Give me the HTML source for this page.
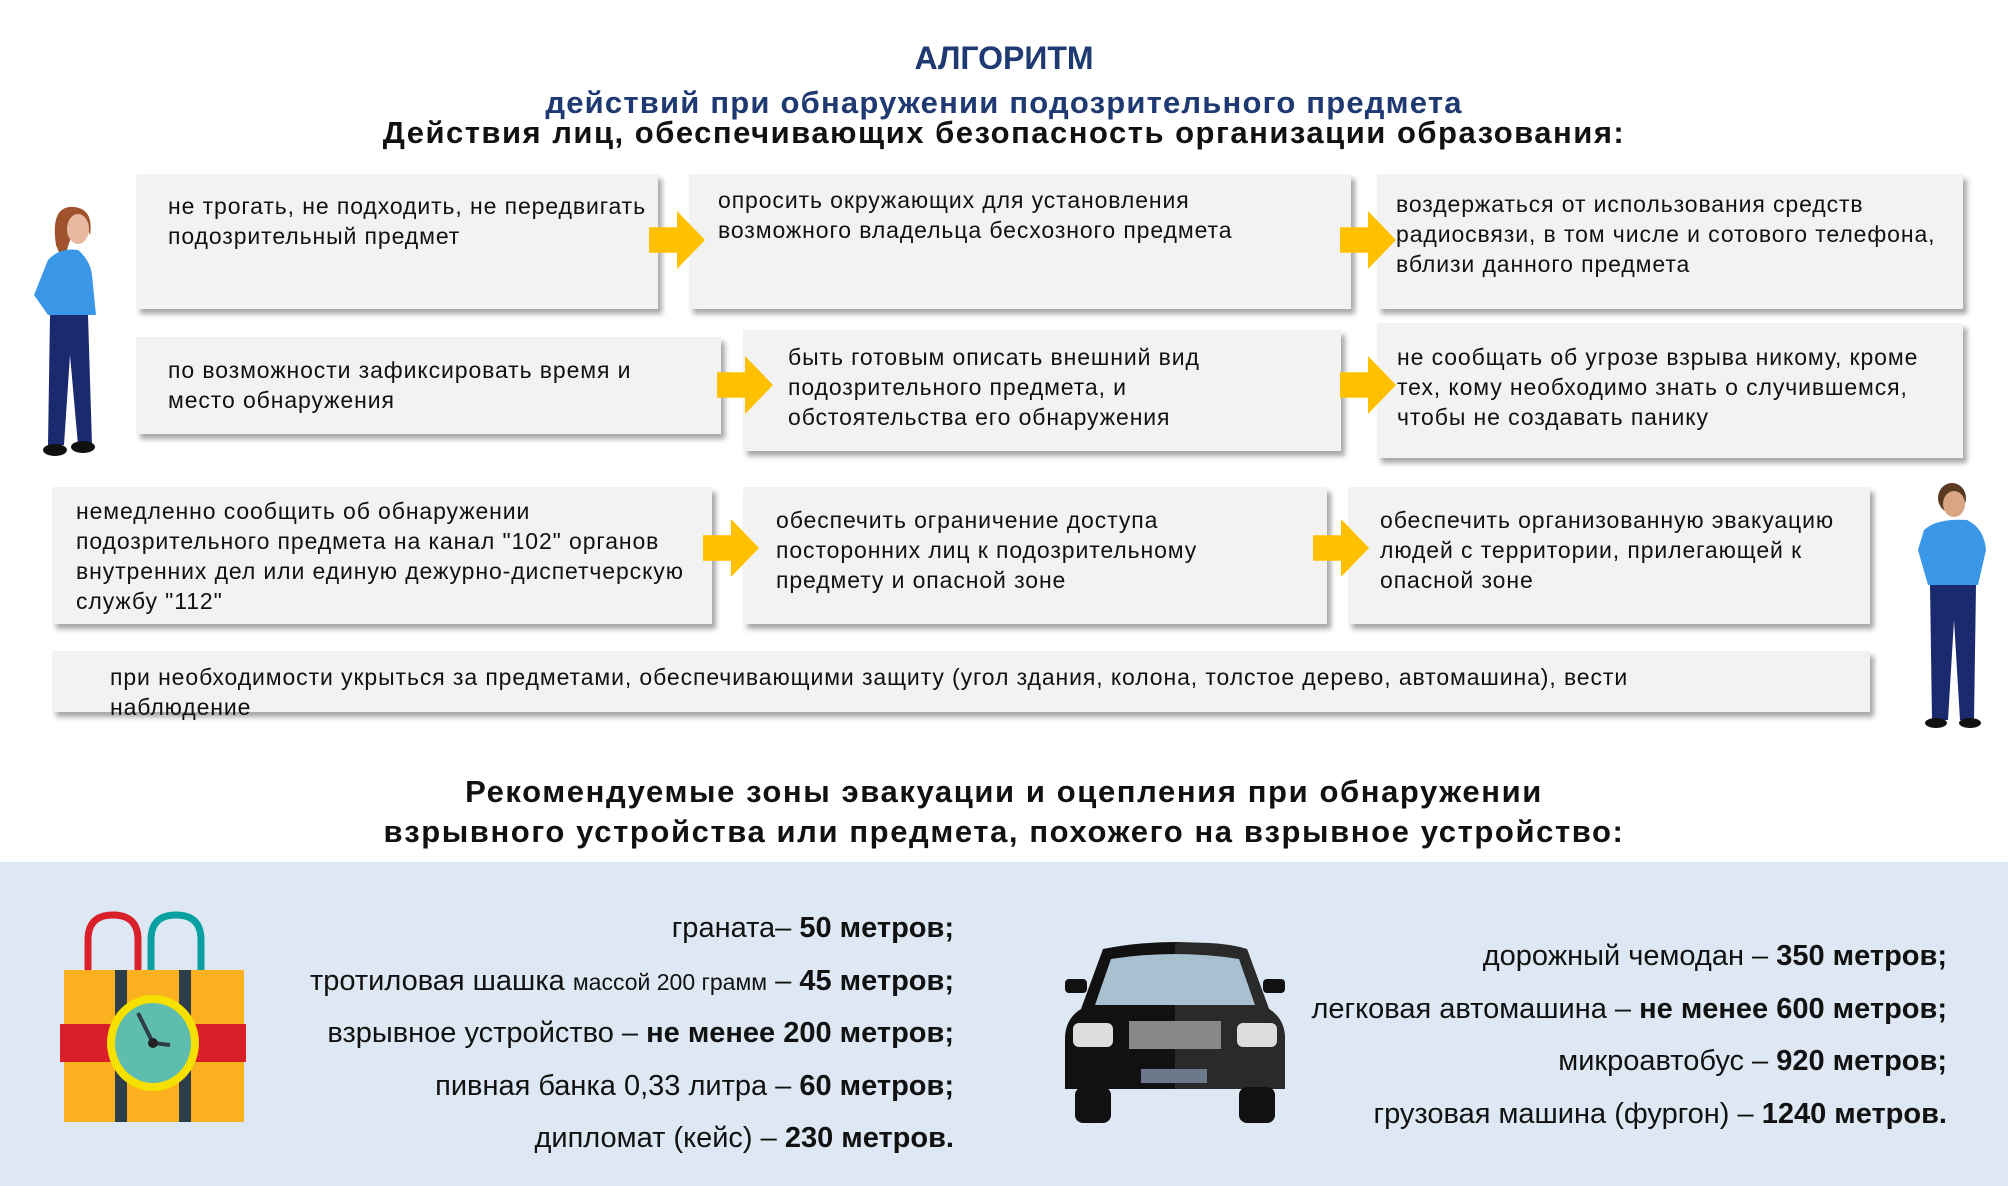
<!DOCTYPE html>
<html><head><meta charset="utf-8"><style>
*{margin:0;padding:0;box-sizing:border-box}
body{width:2008px;height:1186px;position:relative;background:#fff;font-family:"Liberation Sans",Arial,sans-serif;overflow:hidden;color:#111}
.a{position:absolute}
.box{position:absolute;background:#f2f2f2;box-shadow:4px 5px 5px rgba(0,0,0,0.35)}
.t{position:absolute;font-size:23px;letter-spacing:0.9px;line-height:30px;color:#111;white-space:nowrap}
.ar{position:absolute;width:56px;height:58px;background:#ffc000;clip-path:polygon(0 28%,50% 28%,50% 0,100% 50%,50% 100%,50% 72%,0 72%)}
.h{position:absolute;left:0;width:2008px;text-align:center;font-weight:bold}
.r{position:absolute;text-align:right;font-size:29px;white-space:nowrap;color:#111}
.r b{font-weight:bold}
</style></head><body>
<div class="h" style="top:40px;font-size:32px;color:#1f3a72">АЛГОРИТМ</div>
<div class="h" style="top:85px;font-size:31px;color:#1f3a72;letter-spacing:1.2px">действий при обнаружении подозрительного предмета</div>
<div class="h" style="top:115px;font-size:31px;color:#111;letter-spacing:1.5px">Действия лиц, обеспечивающих безопасность организации образования:</div>

<div class="box" style="left:136px;top:174px;width:522px;height:135px"></div>
<div class="box" style="left:689px;top:174px;width:662px;height:135px"></div>
<div class="box" style="left:1377px;top:174px;width:586px;height:135px"></div>
<div class="box" style="left:136px;top:337px;width:585px;height:97px"></div>
<div class="box" style="left:743px;top:330px;width:598px;height:121px"></div>
<div class="box" style="left:1377px;top:323px;width:586px;height:135px"></div>
<div class="box" style="left:52px;top:487px;width:660px;height:137px"></div>
<div class="box" style="left:743px;top:487px;width:584px;height:137px"></div>
<div class="box" style="left:1348px;top:487px;width:522px;height:137px"></div>
<div class="box" style="left:52px;top:651px;width:1818px;height:61px"></div>

<div class="t" style="left:168px;top:191px">не трогать, не подходить, не передвигать<br>подозрительный предмет</div>
<div class="t" style="left:718px;top:185px">опросить окружающих для установления<br>возможного владельца бесхозного предмета</div>
<div class="t" style="left:1396px;top:189px">воздержаться от использования средств<br>радиосвязи, в том числе и сотового телефона,<br>вблизи данного предмета</div>
<div class="t" style="left:168px;top:355px">по возможности зафиксировать время и<br>место обнаружения</div>
<div class="t" style="left:788px;top:342px">быть готовым описать внешний вид<br>подозрительного предмета, и<br>обстоятельства его обнаружения</div>
<div class="t" style="left:1397px;top:342px">не сообщать об угрозе взрыва никому, кроме<br>тех, кому необходимо знать о случившемся,<br>чтобы не создавать панику</div>
<div class="t" style="left:76px;top:496px">немедленно сообщить об обнаружении<br>подозрительного предмета на канал "102" органов<br>внутренних дел или единую дежурно-диспетчерскую<br>службу "112"</div>
<div class="t" style="left:776px;top:505px">обеспечить ограничение доступа<br>посторонних лиц к подозрительному<br>предмету и опасной зоне</div>
<div class="t" style="left:1380px;top:505px">обеспечить организованную эвакуацию<br>людей с территории, прилегающей к<br>опасной зоне</div>
<div class="t" style="left:110px;top:662px">при необходимости укрыться за предметами, обеспечивающими защиту (угол здания, колона, толстое дерево, автомашина), вести<br>наблюдение</div>

<div class="ar" style="left:649px;top:211px"></div>
<div class="ar" style="left:1340px;top:211px"></div>
<div class="ar" style="left:717px;top:356px"></div>
<div class="ar" style="left:1340px;top:356px"></div>
<div class="ar" style="left:703px;top:519px"></div>
<div class="ar" style="left:1313px;top:519px"></div>

<!-- woman -->
<svg class="a" style="left:30px;top:205px" width="90" height="255" viewBox="0 0 90 255">
<path d="M26 40 Q20 0 44 2 Q64 4 60 30 L56 20 Q40 20 34 60 Z" fill="#a0522d"/>
<ellipse cx="48" cy="24" rx="11" ry="15" fill="#e8b8a0"/>
<path d="M18 55 Q30 42 48 45 Q60 55 62 70 L66 110 L18 110 L4 90 Z" fill="#3a97e8"/>
<path d="M20 110 L58 110 L62 240 L48 240 L40 150 L34 240 L18 240 Z" fill="#1b2a6e"/>
<ellipse cx="25" cy="245" rx="12" ry="6" fill="#111"/>
<ellipse cx="53" cy="242" rx="12" ry="6" fill="#111"/>
</svg>
<!-- man -->
<svg class="a" style="left:1912px;top:480px" width="80" height="250" viewBox="0 0 80 250">
<ellipse cx="40" cy="18" rx="14" ry="15" fill="#5a3a22"/>
<ellipse cx="42" cy="24" rx="11" ry="13" fill="#d9a582"/>
<path d="M12 50 Q25 38 55 40 Q72 48 74 70 L66 105 L16 105 L6 70 Z" fill="#3a97e8"/>
<path d="M18 105 L64 105 L62 240 L48 240 L42 140 L36 240 L20 240 Z" fill="#1b2a6e"/>
<ellipse cx="24" cy="243" rx="11" ry="5" fill="#111"/>
<ellipse cx="58" cy="243" rx="11" ry="5" fill="#111"/>
</svg>

<div class="h" style="top:774px;font-size:31px;color:#111;letter-spacing:1.6px">Рекомендуемые зоны эвакуации и оцепления при обнаружении</div>
<div class="h" style="top:814px;font-size:31px;color:#111;letter-spacing:1.6px">взрывного устройства или предмета, похожего на взрывное устройство:</div>

<div class="a" style="left:0;top:862px;width:2008px;height:324px;background:#dde8f4"></div>

<!-- bomb -->
<svg class="a" style="left:58px;top:910px" width="192" height="215" viewBox="0 0 192 215">
<path d="M30 60 L30 30 Q30 5 55 5 Q80 5 80 30 L80 60" fill="none" stroke="#d91f2a" stroke-width="7"/>
<path d="M93 60 L93 30 Q93 5 118 5 Q143 5 143 30 L143 60" fill="none" stroke="#0aa0a0" stroke-width="7"/>
<rect x="6" y="60" width="180" height="152" fill="#fbb01f"/>
<rect x="57" y="60" width="12" height="152" fill="#2d3e4a"/>
<rect x="121" y="60" width="12" height="152" fill="#2d3e4a"/>
<rect x="2" y="114" width="186" height="38" fill="#d91f2a"/>
<ellipse cx="95" cy="133" rx="46" ry="48" fill="#f6e000"/>
<ellipse cx="95" cy="133" rx="38" ry="40" fill="#5fbdb0"/>
<line x1="95" y1="133" x2="80" y2="103" stroke="#2d3e4a" stroke-width="4"/>
<line x1="95" y1="133" x2="112" y2="135" stroke="#2d3e4a" stroke-width="4"/>
<circle cx="95" cy="133" r="5" fill="#222"/>
</svg>

<div class="r" style="right:1054px;top:912px"><span>граната–</span> <b>50 метров;</b></div>
<div class="r" style="right:1054px;top:965px">тротиловая шашка <span style="font-size:23px">массой 200 грамм</span> – <b>45 метров;</b></div>
<div class="r" style="right:1054px;top:1017px">взрывное устройство – <b>не менее 200 метров;</b></div>
<div class="r" style="right:1054px;top:1070px">пивная банка 0,33 литра – <b>60 метров;</b></div>
<div class="r" style="right:1054px;top:1122px">дипломат (кейс) – <b>230 метров.</b></div>

<!-- car -->
<svg class="a" style="left:1063px;top:939px" width="224" height="186" viewBox="0 0 224 186">
<path d="M40 10 Q112 -4 184 10 L206 70 Q222 80 222 100 L222 150 L2 150 L2 100 Q2 80 18 70 Z" fill="#111"/>
<path d="M112 4 Q160 2 184 10 L206 70 Q222 80 222 100 L222 150 L112 150 Z" fill="#2a2a2a"/>
<path d="M48 20 Q112 10 176 20 L192 66 L32 66 Z" fill="#a9c0d0"/>
<rect x="2" y="40" width="22" height="14" rx="4" fill="#111"/>
<rect x="200" y="40" width="22" height="14" rx="4" fill="#111"/>
<rect x="10" y="84" width="40" height="24" rx="6" fill="#ddd"/>
<rect x="174" y="84" width="40" height="24" rx="6" fill="#ddd"/>
<rect x="66" y="82" width="92" height="28" fill="#888"/>
<rect x="78" y="130" width="66" height="14" fill="#6a7a8a"/>
<rect x="12" y="148" width="36" height="36" rx="8" fill="#111"/>
<rect x="176" y="148" width="36" height="36" rx="8" fill="#111"/>
</svg>

<div class="r" style="right:61px;top:940px">дорожный чемодан – <b>350 метров;</b></div>
<div class="r" style="right:61px;top:993px">легковая автомашина – <b>не менее 600 метров;</b></div>
<div class="r" style="right:61px;top:1045px">микроавтобус – <b>920 метров;</b></div>
<div class="r" style="right:61px;top:1098px">грузовая машина (фургон) – <b>1240 метров.</b></div>
</body></html>
